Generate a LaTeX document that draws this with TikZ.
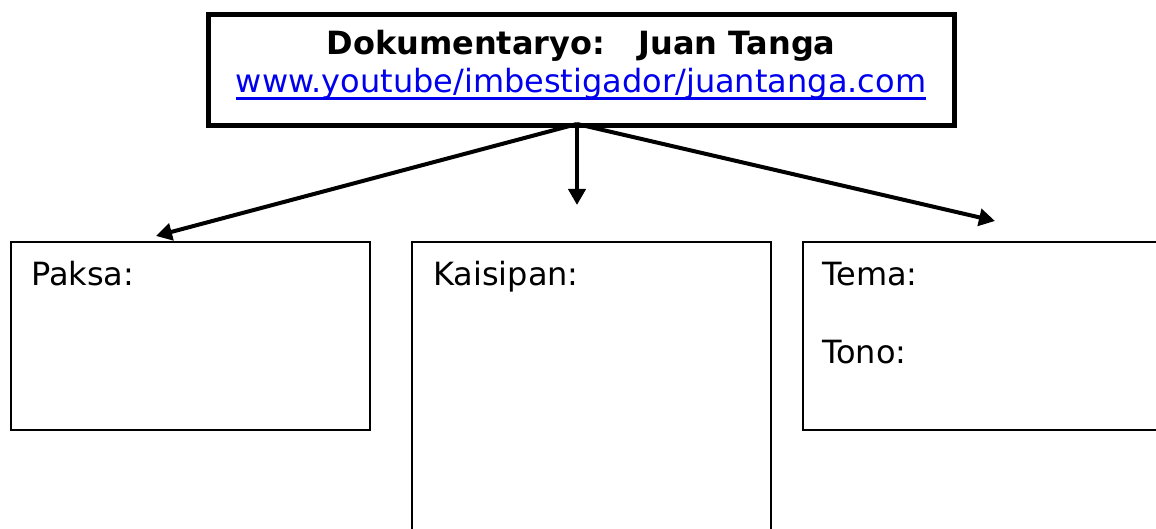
\documentclass[tikz,border=0pt]{standalone}
\usepackage{fontspec}
\setmainfont{DejaVu Sans}
\usetikzlibrary{arrows.meta}
\definecolor{linkblue}{RGB}{0,0,238}
\begin{document}
\begin{tikzpicture}[x=1pt,y=-1pt,
  frame/.style={draw, line width=2pt, inner sep=0pt, anchor=north west},
  lbl/.style={anchor=base west, inner sep=0pt, font=\fontsize{32}{38}\selectfont},
  conn/.style={line width=4pt, -{Triangle[length=16pt,width=17pt]}}]
\useasboundingbox (0,0) rectangle (1156,529);
\clip (0,0) rectangle (1156,529);
\node[draw, line width=5pt, minimum width=746pt, minimum height=111pt, anchor=north west, inner sep=0pt] (top) at (206,12) {};
\node[anchor=base, inner sep=0pt, font=\fontsize{32}{38}\selectfont\bfseries] (title) at (581,55) {Dokumentaryo:\ \ \ Juan Tanga};
\node[anchor=base, inner sep=0pt, font=\fontsize{32}{38}\selectfont, text=linkblue] (url) at (581,93) {www.youtube/imbestigador/juantanga.com};
\draw[linkblue, line width=2.4pt] ([yshift=-5.5pt]url.base west) -- ([yshift=-5.5pt]url.base east);
\node[frame, minimum width=359pt, minimum height=188pt] (paksa) at (10,241) {};
\node[frame, minimum width=359pt, minimum height=340pt] (kaisipan) at (411,241) {};
\node[frame, minimum width=400pt, minimum height=188pt] (tema) at (802,241) {};
\node[lbl] (lpaksa) at (31,285) {Paksa:};
\node[lbl] (lkaisipan) at (433,285) {Kaisipan:};
\node[lbl] (ltema) at (822,285) {Tema:};
\node[lbl] (ltono) at (822,363) {Tono:};
\coordinate (src) at (577,124);
\coordinate (lt) at (156,236);
\coordinate (mt) at (577,205);
\coordinate (rt) at (995,221);
\draw[conn] (src) -- (lt);
\draw[conn] (src) -- (mt);
\draw[conn] (src) -- (rt);
\end{tikzpicture}
\end{document}
